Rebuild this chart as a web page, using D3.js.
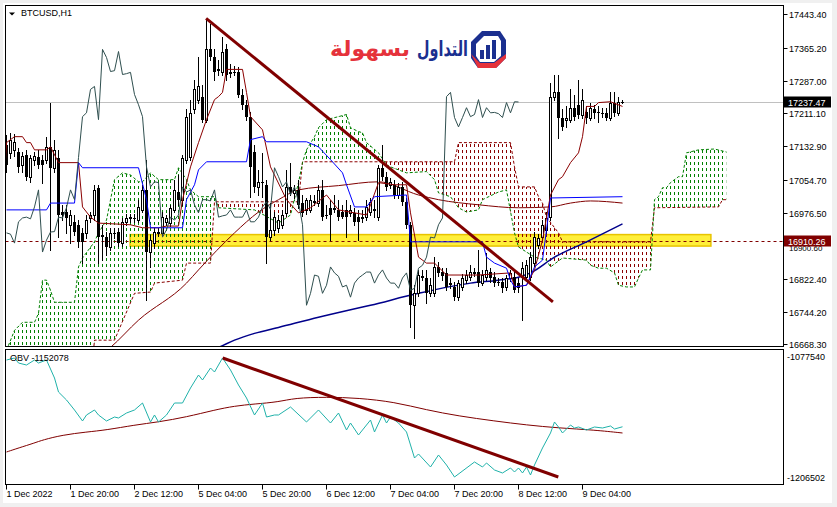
<!DOCTYPE html>
<html><head><meta charset="utf-8">
<script src="https://cdn.jsdelivr.net/npm/d3@7"></script>
<style>
html,body{margin:0;padding:0;background:#f0f0f0;}
svg{display:block;}
text{font-family:"Liberation Sans",Arial,sans-serif;font-size:9px;fill:#000;}
</style></head><body>
<svg id="c" width="837" height="507"></svg>
<script>
// ---------------- DATA ----------------
const symbolTitle = "BTCUSD,H1";
const obvTitle = "OBV -1152078";
const logoWords = ["التداول", "بسهولة"];
const timeLabels = ["1 Dec 2022","1 Dec 20:00","2 Dec 12:00","5 Dec 04:00","5 Dec 20:00","6 Dec 12:00","7 Dec 04:00","7 Dec 20:00","8 Dec 12:00","9 Dec 04:00"];
const timeLabelBars = [0,16,32,48,64,80,96,112,128,144];
const priceTicks = [17443.40,17365.20,17287.00,17211.10,17132.90,17054.70,16976.50,16900.60,16822.40,16744.20,16668.30];
const obvTicks = [-1077540,-1206502];
const lastPrice = 17237.47;
const levelPrice = 16910.26;
const band = {from:30.9, to:176.1, low:16899, high:16926};

// H1 candles: [open, high, low, close]
const ohlc = [
[17137,17161,17074,17090],[17118,17165,17107,17149],[17125,17163,17111,17144],[17121,17130,17074,17085],
[17090,17121,17074,17111],[17113,17125,17055,17062],[17062,17113,17050,17107],[17102,17121,17090,17111],
[17109,17125,17083,17090],[17102,17113,17048,17090],[17102,17156,17095,17132],[17132,17236,16890,17083],
[17083,17149,17074,17125],[17107,17125,16920,16972],[16979,16996,16960,16972],[16979,16996,16930,16965],
[16949,16984,16906,16972],[16956,16972,16925,16932],[16949,16960,16897,16909],[16930,16942,16859,16909],
[16930,16972,16918,16960],[16965,16979,16956,16972],[16972,17043,16960,17031],[17036,17043,16859,16920],
[16925,16949,16866,16920],[16920,16932,16878,16897],[16897,16942,16890,16930],[16930,16942,16918,16927],
[16932,16942,16899,16906],[16906,16965,16899,16956],[16956,16975,16949,16965],[16965,16975,16956,16967],
[16965,16975,16956,16963],[16960,17008,16956,16991],[16984,17043,16979,17031],[17031,17102,16772,16885],
[16885,16925,16850,16913],[16906,16942,16894,16932],[16930,16942,16923,16933],[16930,16979,16923,16967],
[16956,16972,16949,16965],[16953,16996,16946,16989],[16984,17055,16979,17031],[17026,17066,16996,17008],
[17008,17113,16996,17107],[17102,17220,17095,17203],[17109,17243,17102,17212],[17220,17290,17212,17267],
[17243,17342,17236,17274],[17248,17278,17191,17196],[17196,17432,17191,17361],[17361,17420,17337,17342],
[17342,17361,17290,17309],[17314,17337,17302,17311],[17309,17389,17302,17356],[17361,17373,17290,17302],
[17307,17326,17295,17304],[17309,17323,17300,17307],[17309,17319,17248,17255],[17255,17267,17220,17231],
[17231,17243,17196,17203],[17203,17215,17015,17085],[17121,17137,17026,17038],[17038,17078,17019,17050],
[17050,17118,17015,17048],[17043,17055,16859,16920],[16920,17000,16913,16937],[16937,16979,16925,16967],
[16942,16972,16932,16960],[16949,16984,16942,16972],[16977,17078,16970,17038],[17038,17095,17019,17026],
[17024,17043,17012,17031],[17031,17055,16989,16996],[17000,17019,16970,16977],[16984,17012,16975,17008],
[16984,17019,16979,17008],[17003,17019,16996,17005],[17000,17043,16993,17031],[17031,17055,16960,16967],
[16972,16996,16965,16970],[16989,17008,16913,16972],[16989,17019,16979,16984],[16984,17008,16960,16967],
[16979,16996,16965,16967],[16984,17008,16920,16967],[16977,16996,16970,16984],[16977,16989,16949,16956],
[16967,16984,16913,16956],[16965,16984,16956,16967],[16967,17008,16960,16991],[16979,17012,16972,17003],
[16984,17008,16967,16985],[16967,17090,16960,17083],[17083,17137,17055,17062],[17062,17074,17031,17038],
[17043,17059,17036,17050],[17043,17055,17012,17019],[17019,17048,17012,17038],[17038,17050,16996,17003],
[17003,17012,16942,16949],[16949,16956,16708,16760],[16760,16807,16682,16788],[16788,16843,16781,16831],
[16826,16843,16819,16828],[16824,16843,16765,16788],[16788,16824,16781,16807],[16788,16873,16781,16850],
[16850,16861,16828,16836],[16838,16847,16819,16828],[16836,16847,16795,16803],[16812,16824,16800,16807],
[16803,16814,16772,16779],[16779,16819,16772,16812],[16803,16833,16795,16824],[16819,16843,16812,16831],
[16826,16854,16819,16838],[16836,16847,16828,16838],[16838,16890,16805,16812],[16812,16843,16807,16831],
[16826,16883,16819,16843],[16838,16847,16814,16824],[16826,16838,16805,16812],[16814,16824,16807,16812],
[16814,16824,16791,16800],[16803,16831,16795,16824],[16824,16843,16817,16836],[16826,16838,16791,16795],
[16812,16824,16791,16800],[16826,16861,16725,16847],[16826,16866,16819,16854],[16826,16885,16819,16873],
[16859,16932,16852,16920],[16901,16927,16894,16918],[16920,16960,16913,16949],[16937,16979,16930,16965],
[16967,17283,16960,17250],[17250,17302,17243,17260],[17260,17302,17154,17201],[17201,17220,17172,17179],
[17196,17227,17179,17201],[17196,17267,17191,17224],[17224,17255,17196,17203],[17231,17290,17201,17208],
[17208,17267,17201,17243],[17215,17229,17189,17201],[17201,17234,17196,17224],[17220,17231,17201,17212],
[17215,17227,17191,17213],[17212,17224,17203,17210],[17212,17224,17196,17201],[17201,17260,17196,17236],
[17236,17262,17205,17212],[17212,17250,17208,17238],[17238,17243,17236,17237.47]
];

// Ichimoku lines, read as [bar, price]
const tenkan = [[-1,16984],[0,17142],[2,17156],[4,17156],[5,17142],[6,17142],[7,17125],[10,17125],[11,17132],[13,17095],[18,17095],[19,16991],[21,16967],[23,16953],[31,16949],[34,16942],[38,16942],[40,16946],[43,16946],[44,17008],[46,17085],[48,17142],[50,17196],[52,17243],[53,17250],[54,17260],[55,17314],[59,17314],[60,17260],[61,17203],[64,17172],[66,17085],[70,17008],[73,16977],[76,16989],[80,17019],[83,16984],[87,16977],[90,16972],[91,16996],[93,17048],[97,17043],[100,17043],[101,16977],[103,16873],[105,16859],[107,16859],[110,16831],[118,16831],[126,16836],[127,16803],[130,16807],[132,16843],[134,16913],[136,17019],[138,17055],[139,17062],[141,17095],[143,17118],[144,17156],[145,17227],[147,17227],[148,17236],[151,17238],[154,17227]];
const kijun = [[0,16984],[10,16984],[11,17000],[17,17000],[18,17095],[19,17083],[33,17083],[35,17008],[36,16942],[44,16942],[45,17008],[47,17043],[48,17078],[50,17097],[60,17097],[61,17149],[64,17156],[65,17144],[75,17144],[78,17132],[81,17102],[84,17071],[85,17043],[87,16991],[90,16991],[92,17015],[100,17019],[101,16909],[119,16909],[120,16873],[122,16859],[125,16847],[126,16819],[127,16803],[130,16807],[132,16850],[134,16866],[135,16937],[136,17012],[154,17015]];
const spanA = [[0,16654],[2,16701],[4,16720],[7,16720],[8,16741],[9,16819],[10,16819],[11,16795],[12,16767],[17,16767],[18,16850],[19,16871],[22,16909],[23,16930],[25,16960],[27,17055],[29,17071],[31,17066],[33,17050],[34,17050],[36,17071],[38,17055],[42,17055],[43,17083],[45,17055],[46,17031],[48,17015],[52,17015],[53,16989],[62,16984],[63,16979],[68,16953],[71,16972],[73,17048],[74,17095],[75,17125],[77,17156],[78,17177],[80,17196],[83,17203],[85,17208],[86,17177],[88,17168],[89,17165],[90,17142],[93,17118],[95,17090],[96,17085],[100,17071],[105,17074],[107,17055],[108,17024],[111,17015],[113,16989],[115,16979],[118,16984],[119,17008],[123,17026],[125,17031],[127,16930],[128,16897],[132,16873],[135,16866],[136,16850],[139,16871],[145,16866],[146,16854],[148,16847],[150,16847],[152,16836],[153,16807],[155,16803],[157,16803],[158,16824],[159,16843],[161,16843],[162,17008],[163,17015],[164,17036],[165,17036],[166,17048],[168,17062],[169,17062],[170,17118],[173,17125],[177,17127],[180,17120]];
const spanB = [[0,16580],[21,16580],[22,16678],[27,16678],[32,16788],[36,16791],[37,16812],[44,16819],[45,16859],[51,16859],[52,17003],[73,17003],[74,17097],[112,17097],[113,17142],[126,17142],[127,17085],[128,17038],[132,17038],[133,17015],[134,17000],[135,16967],[138,16930],[139,16909],[161,16909],[162,16989],[178,16991],[179,17008],[180,17008]];
const chikouShift = 26;

// Moving averages on price, read as [bar, price]
const maroonMA = [[20,16620],[26,16661],[33,16725],[45,16812],[48,16843],[57,16930],[63,16979],[68,17008],[73,17031],[83,17041],[93,17050],[103,17019],[108,17008],[118,16996],[128,16989],[136,16991],[141,17000],[146,17005],[154,17000]];
const navyMA = [[48,16645],[53,16661],[57,16678],[62,16694],[68,16708],[78,16732],[91,16760],[103,16788],[116,16812],[123,16819],[128,16826],[131,16836],[137,16873],[145,16909],[154,16951]];
const trendMain = [[49.9,17434],[136.6,16768]];

// OBV panel, read as [bar, value]
const obv = [[0,-1079707],[2,-1077540],[3,-1082959],[5,-1085126],[7,-1079707],[8,-1082959],[10,-1079707],[12,-1099214],[13,-1114386],[15,-1123055],[17,-1133892],[19,-1145813],[20,-1139311],[22,-1133892],[23,-1139311],[25,-1145813],[27,-1141479],[28,-1142562],[30,-1137144],[32,-1133892],[34,-1126307],[36,-1146897],[37,-1139311],[38,-1146897],[40,-1139311],[42,-1126307],[44,-1126307],[46,-1110051],[48,-1095963],[49,-1101381],[51,-1088377],[52,-1092712],[54,-1077540],[56,-1090544],[58,-1106800],[60,-1120888],[62,-1139311],[64,-1126307],[65,-1141479],[67,-1139311],[68,-1139311],[71,-1130641],[75,-1146897],[78,-1133892],[81,-1147981],[83,-1137144],[85,-1155566],[86,-1147981],[88,-1160985],[91,-1144730],[92,-1157734],[94,-1139311],[95,-1147981],[96,-1141479],[98,-1147981],[100,-1157734],[101,-1171822],[102,-1185910],[103,-1181575],[106,-1195663],[108,-1182659],[110,-1193496],[112,-1206502],[117,-1190245],[119,-1195663],[120,-1191329],[122,-1198914],[124,-1202166],[126,-1196747],[127,-1201082],[128,-1196747],[129,-1202166],[130,-1195663],[131,-1204333],[132,-1193496],[134,-1175073],[136,-1158818],[137,-1146897],[138,-1152315],[139,-1158818],[141,-1150148],[142,-1153399],[143,-1152315],[145,-1155566],[147,-1152315],[149,-1153399],[151,-1151232],[152,-1154482],[154,-1152078]];
const obvMA = [[0,-1179408],[3,-1175073],[7,-1169655],[9,-1166404],[14,-1160985],[20,-1157734],[25,-1155566],[32,-1150148],[38,-1146897],[45,-1141479],[52,-1133892],[57,-1129557],[62,-1127390],[68,-1125223],[72,-1120888],[80,-1119804],[88,-1120888],[97,-1125223],[105,-1133892],[113,-1140395],[122,-1145813],[130,-1150148],[138,-1153399],[147,-1155566],[154,-1158818]];
const trendObv = [[54.05,-1077540],[137.95,-1206502]];

// ---------------- CHART ----------------
const svg = d3.select("#c");
const pL = 5.5, pR = 783.5, mT = 5.5, mB = 346.5, oT = 349.5, oB = 484.5;
const x = d3.scaleLinear().domain([0, 154]).range([6.5, 622.5]);
const y = d3.scaleLinear().domain([16668.3, 17443.4]).range([344.3, 14.3]);
const yo = d3.scaleLinear().domain([-1206502, -1077540]).range([477, 358]);

svg.append("rect").attr("x",3).attr("y",3).attr("width",829).attr("height",500).attr("fill","#fff");

const defs = svg.append("defs");
defs.append("clipPath").attr("id","mainClip").append("rect").attr("x",6).attr("y",6).attr("width",777).attr("height",340);
defs.append("clipPath").attr("id","obvClip").append("rect").attr("x",6).attr("y",350).attr("width",777).attr("height",134);
const areaAbove = d3.area().x(d=>x(d[0])).y0(-50).y1(d=>y(d[1]));
const areaBelow = d3.area().x(d=>x(d[0])).y0(500).y1(d=>y(d[1]));
defs.append("clipPath").attr("id","aboveA").append("path").attr("d", areaAbove(spanA));
defs.append("clipPath").attr("id","belowA").append("path").attr("d", areaBelow(spanA));
defs.append("clipPath").attr("id","aboveB").append("path").attr("d", areaAbove(spanB));
defs.append("clipPath").attr("id","belowB").append("path").attr("d", areaBelow(spanB));
function pattern(id, color){
  const p = defs.append("pattern").attr("id",id).attr("patternUnits","userSpaceOnUse")
    .attr("x",6).attr("y",0).attr("width",4).attr("height",6);
  p.append("rect").attr("x",0).attr("y",0).attr("width",1).attr("height",3).attr("fill",color);
}
pattern("patG","#008000");
pattern("patR","#8B0000");

const main = svg.append("g").attr("clip-path","url(#mainClip)");

// yellow band
main.append("rect").attr("x",x(band.from)).attr("y",y(band.high))
  .attr("width",x(band.to)-x(band.from)).attr("height",y(band.low)-y(band.high))
  .attr("fill","#FFEF3A").attr("stroke","#E8C400").attr("stroke-width",1.5);

// last price grey line
main.append("line").attr("x1",pL).attr("x2",pR).attr("y1",Math.round(y(lastPrice))+0.5).attr("y2",Math.round(y(lastPrice))+0.5)
  .attr("stroke","#C0C0C0");

// cloud
main.append("g").attr("clip-path","url(#aboveB)").append("rect")
  .attr("x",6).attr("y",6).attr("width",777).attr("height",340).attr("fill","url(#patG)").attr("clip-path","url(#belowA)");
main.append("g").attr("clip-path","url(#aboveA)").append("rect")
  .attr("x",6).attr("y",6).attr("width",777).attr("height",340).attr("fill","url(#patR)").attr("clip-path","url(#belowB)");
const line = d3.line().x(d=>x(d[0])).y(d=>y(d[1]));
main.append("path").attr("d",line(spanB)).attr("fill","none").attr("stroke","#8B0000").attr("stroke-dasharray","3,2");
main.append("path").attr("d",line(spanA)).attr("fill","none").attr("stroke","#008000").attr("stroke-dasharray","3,2");

// level line
main.append("line").attr("x1",pL).attr("x2",pR).attr("y1",Math.round(y(levelPrice))+0.5).attr("y2",Math.round(y(levelPrice))+0.5)
  .attr("stroke","#800000").attr("stroke-dasharray","3,3");

// MAs
const smooth = d3.line().x(d=>x(d[0])).y(d=>y(d[1])).curve(d3.curveMonotoneX);
main.append("path").attr("d",smooth(maroonMA)).attr("fill","none").attr("stroke","#800000").attr("stroke-width",1);
main.append("path").attr("d",smooth(navyMA)).attr("fill","none").attr("stroke","#00008B").attr("stroke-width",1.5);

// candles
const cg = main.append("g");
ohlc.forEach((d,i)=>{
  const [o,h,l,c] = d;
  const cx = x(i);
  cg.append("line").attr("x1",cx).attr("x2",cx).attr("y1",Math.round(y(h))).attr("y2",Math.round(y(l))+1).attr("stroke","#000");
  const t = Math.round(y(Math.max(o,c))), b = Math.round(y(Math.min(o,c)));
  if (c >= o) {
    cg.append("rect").attr("x",cx-1).attr("y",t+0.5).attr("width",2).attr("height",Math.max(b-t,0))
      .attr("fill","#fff").attr("stroke","#000");
  } else {
    cg.append("rect").attr("x",cx-1.5).attr("y",t).attr("width",3).attr("height",Math.max(b-t,1)).attr("fill","#000");
  }
});

// Ichimoku lines
main.append("path").attr("d",line(tenkan)).attr("fill","none").attr("stroke","#8B0000");
main.append("path").attr("d",line(kijun)).attr("fill","none").attr("stroke","#0000FF");
const chikou = ohlc.slice(chikouShift).map((d,k)=>[k,d[3]]);
main.append("path").attr("d",line(chikou)).attr("fill","none").attr("stroke","#2F4F4F");

// trendline
main.append("path").attr("d",line(trendMain)).attr("fill","none").attr("stroke","#800000").attr("stroke-width",3);

// ---------- OBV panel ----------
const og = svg.append("g").attr("clip-path","url(#obvClip)");
const lo = d3.line().x(d=>x(d[0])).y(d=>yo(d[1]));
og.append("path").attr("d",lo.curve(d3.curveBasis)(obvMA)).attr("fill","none").attr("stroke","#800000");
og.append("path").attr("d",d3.line().x(d=>x(d[0])).y(d=>yo(d[1]))(obv)).attr("fill","none").attr("stroke","#20B2AA");
og.append("path").attr("d",d3.line().x(d=>x(d[0])).y(d=>yo(d[1]))(trendObv)).attr("fill","none").attr("stroke","#800000").attr("stroke-width",3);

// frames
svg.append("rect").attr("x",pL).attr("y",mT).attr("width",pR-pL).attr("height",mB-mT).attr("fill","none").attr("stroke","#000");
svg.append("rect").attr("x",pL).attr("y",oT).attr("width",pR-pL).attr("height",oB-oT).attr("fill","none").attr("stroke","#000");

// right price axis
const ax = svg.append("g");
priceTicks.forEach(p=>{
  const yy = Math.round(y(p))+0.5;
  ax.append("line").attr("x1",pR).attr("x2",pR+4).attr("y1",yy).attr("y2",yy).attr("stroke","#000");
  // the tick label that the level box covers is only partly visible in the reference
  const covered = Math.abs(y(p) - y(levelPrice)) < 6;
  ax.append("text").attr("x",789).attr("y",yy+3).style("font-size", covered ? "8px" : null)
    .attr("dy", covered ? 2 : 0).text(p.toFixed(2));
});
function priceBox(p, bg){
  const yy = Math.round(y(p))+0.5;
  ax.append("rect").attr("x",784).attr("y",yy-6).attr("width",47).attr("height",11).attr("fill",bg);
  ax.append("text").attr("x",788).attr("y",yy+3).style("fill","#fff").text(p.toFixed(2));
}
priceBox(lastPrice,"#000");
priceBox(levelPrice,"#800000");

// OBV axis
ax.append("text").attr("x",787).attr("y",yo(obvTicks[0])+2).text(String(obvTicks[0]));
ax.append("text").attr("x",787).attr("y",yo(obvTicks[1])+4).text(String(obvTicks[1]));
svg.append("text").attr("x",10).attr("y",yo(obvTicks[0])+3).text(obvTitle);

// time axis
timeLabelBars.forEach((b,k)=>{
  const xx = x(b);
  ax.append("line").attr("x1",xx).attr("x2",xx).attr("y1",oB).attr("y2",oB+5).attr("stroke","#000");
  ax.append("text").attr("x",xx).attr("y",497).text(timeLabels[k]);
});

// title
svg.append("path").attr("d","M9,12.5 L15,12.5 L12,15.5 Z").attr("fill","#000");
svg.append("text").attr("x",21).attr("y",16).text(symbolTitle);

// logo
const lg = svg.append("g");
lg.append("path").attr("d","M482,31 L500,31 L506,40 L506,58 L496,68 L478,68 L471,58 L471,42 Z").attr("fill","#1B2F8F");
lg.append("path").attr("d","M484,36 L498,36 L501,41 L501,56 L494,62 L480,62 L476,56 L476,44 Z").attr("fill","#fff");
lg.append("path").attr("d","M471,54 L478,68 L496,68 L506,58 L506,54 L494,63 L480,63 Z").attr("fill","#E5323B");
lg.append("rect").attr("x",480).attr("y",50).attr("width",4).attr("height",9).attr("fill","#1B2F8F");
lg.append("rect").attr("x",486).attr("y",45).attr("width",4).attr("height",14).attr("fill","#1B2F8F");
lg.append("rect").attr("x",492).attr("y",40).attr("width",4).attr("height",19).attr("fill","#1B2F8F");
lg.append("text").attr("x",417).attr("y",56).attr("textLength",51).attr("lengthAdjust","spacingAndGlyphs")
  .style("font-family","'DejaVu Sans','Noto Sans',sans-serif").style("font-size","21px").style("font-weight","bold").style("fill","#1B2F8F").text(logoWords[0]);
lg.append("text").attr("x",330).attr("y",56).attr("textLength",80).attr("lengthAdjust","spacingAndGlyphs")
  .style("font-family","'DejaVu Sans','Noto Sans',sans-serif").style("font-size","21px").style("font-weight","bold").style("fill","#E5323B").text(logoWords[1]);
</script>
</body></html>
